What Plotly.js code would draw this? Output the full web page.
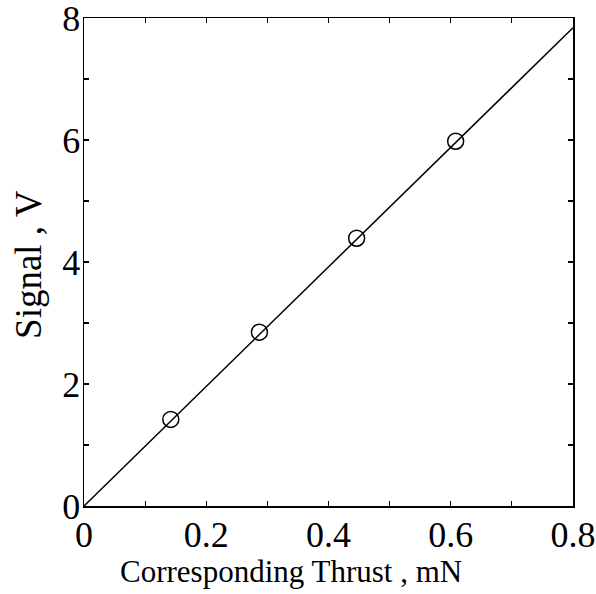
<!DOCTYPE html>
<html>
<head>
<meta charset="utf-8">
<script src="https://cdn.plot.ly/plotly-3.0.1.min.js"></script>
<style>html,body{margin:0;padding:0;background:#fff;}#chart{width:596px;height:594px;}</style>
</head>
<body>
<div id="chart"></div>
<script>
// Measured points
var thrust = [0.142, 0.287, 0.446, 0.608];
var signal = [1.42, 2.85, 4.39, 5.98];
// Fitted line endpoints
var fitThrust = [0, 0.8];
var fitSignal = [0, 7.84];

var xTickVals = [0, 0.2, 0.4, 0.6, 0.8];
var xTickText = ['0', '0.2', '0.4', '0.6', '0.8'];
var yTickVals = [0, 2, 4, 6, 8];
var yTickText = ['0', '2', '4', '6', '8'];
var xTitle = 'Corresponding Thrust , mN';
var yTitle = 'Signal , V';

var font = 'Liberation Serif, Times New Roman, serif';

var traces = [
  {x: fitThrust, y: fitSignal, mode: 'lines', line: {color: '#000', width: 1.5}, hoverinfo: 'skip', showlegend: false},
  {x: thrust, y: signal, mode: 'markers', marker: {symbol: 'circle-open', size: 16, color: '#000', line: {width: 1.5, color: '#000'}}, showlegend: false}
];

var axisCommon = {
  showgrid: false, zeroline: false, showline: true, linecolor: '#000', linewidth: 1.5,
  mirror: 'ticks', ticks: 'inside', ticklen: 5, tickwidth: 1.2, tickcolor: '#000',
  ticklabeloverflow: 'allow',
  tickfont: {family: font, size: 36, color: '#000'}
};

var layout = {
  width: 596, height: 594,
  margin: {l: 84, r: 23, t: 18, b: 88},
  paper_bgcolor: '#fff', plot_bgcolor: '#fff',
  font: {family: font, color: '#000'},
  xaxis: Object.assign({}, axisCommon, {
    range: [0, 0.8], tickmode: 'array', tickvals: xTickVals, ticktext: xTickText,
    ticklabelstandoff: -4,
    minor: {dtick: 0.1, ticks: 'inside', ticklen: 5, tickwidth: 1.2, tickcolor: '#000'}
  }),
  yaxis: Object.assign({}, axisCommon, {
    range: [0, 8], tickmode: 'array', tickvals: yTickVals, ticktext: yTickText,
    ticklabelstandoff: -5,
    minor: {dtick: 1, ticks: 'inside', ticklen: 5, tickwidth: 1.2, tickcolor: '#000'}
  }),
  annotations: [
    {text: xTitle, xref: 'paper', yref: 'paper', x: 0.423, y: -0.135, xanchor: 'center', yanchor: 'middle',
     showarrow: false, font: {family: font, size: 31, color: '#000'}},
    {text: yTitle, xref: 'paper', yref: 'paper', x: -0.1125, y: 0.496, xanchor: 'center', yanchor: 'middle',
     textangle: -90, showarrow: false, font: {family: font, size: 37, color: '#000'}}
  ]
};

Plotly.newPlot('chart', traces, layout, {displayModeBar: false, staticPlot: true});
</script>
</body>
</html>
